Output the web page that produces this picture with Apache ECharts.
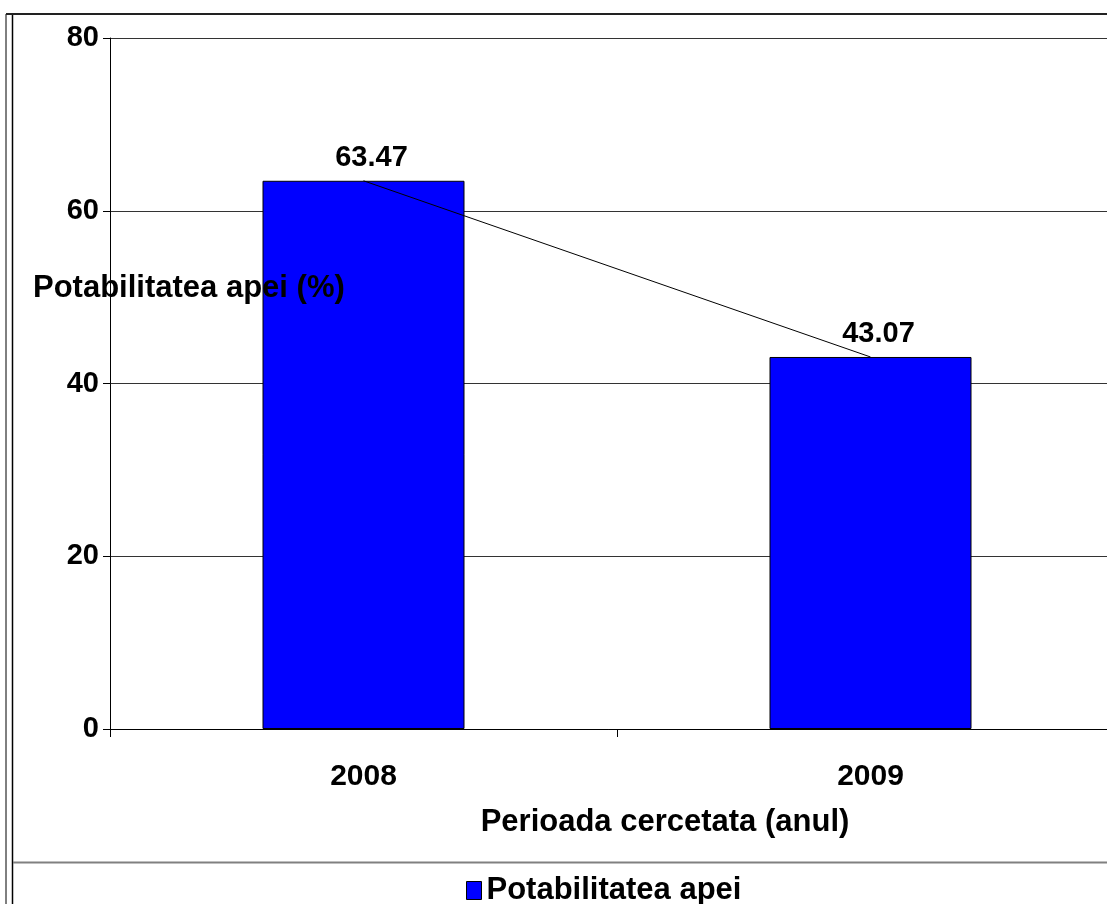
<!DOCTYPE html>
<html>
<head>
<meta charset="utf-8">
<script src="https://cdn.jsdelivr.net/npm/echarts@6/dist/echarts.min.js"></script>
<style>
html,body{margin:0;padding:0;background:#fff;}
#c{width:1107px;height:904px;}
</style>
</head>
<body>
<div id="c"></div>
<script>
const categories = ['2008', '2009'];
const values = [63.47, 43.07];
const yTicks = [0, 20, 40, 60, 80];
const seriesName = 'Potabilitatea apei';
const yTitle = 'Potabilitatea apei (%)';
const xTitle = 'Perioada cercetata (anul)';

const FONT = 'Liberation Sans, Arial, sans-serif';
const chart = echarts.init(document.getElementById('c'), null, {renderer: 'canvas'});
chart.setOption({
  animation: false,
  backgroundColor: '#fff',
  title: {
    text: yTitle,
    left: 28, top: 268,
    textStyle: {fontFamily: FONT, fontWeight: 'bold', fontSize: 31, color: '#000'}
  },
  legend: {
    data: [seriesName],
    left: 461, top: 870,
    icon: 'rect',
    itemWidth: 15, itemHeight: 18, itemGap: 5,
    textStyle: {fontFamily: FONT, fontWeight: 'bold', fontSize: 31, color: '#000'},
    itemStyle: {borderColor: '#000', borderWidth: 1}
  },
  grid: {left: 110, top: 38, width: 1014, height: 691, containLabel: false, outerBoundsMode: 'none'},
  xAxis: {
    type: 'category',
    data: categories,
    name: xTitle,
    nameLocation: 'middle',
    nameGap: 78,
    nameTextStyle: {fontFamily: FONT, fontWeight: 'bold', fontSize: 31, color: '#000', padding:[0,0,0,96]},
    axisLine: {lineStyle: {color: '#000', width: 1}},
    axisTick: {show: true, length: 8, lineStyle: {color: '#000'}},
    axisLabel: {fontFamily: FONT, fontWeight: 'bold', fontSize: 30, color: '#000', margin: 33}
  },
  yAxis: {
    type: 'value',
    min: yTicks[0], max: yTicks[yTicks.length-1], interval: yTicks[1]-yTicks[0],
    axisLine: {show: true, lineStyle: {color: '#000', width: 1}},
    axisTick: {show: true, length: 7, lineStyle: {color: '#000'}},
    axisLabel: {fontFamily: FONT, fontWeight: 'bold', fontSize: 29, color: '#000', margin: 11, padding: [5,0,0,0]},
    splitLine: {show: true, lineStyle: {color: '#333', width: 1}}
  },
  series: [
    {
      name: seriesName,
      type: 'bar',
      data: values,
      barWidth: 202,
      itemStyle: {color: '#0000FF', borderColor: '#000', borderWidth: 1},
      label: {show: true, position: 'top', distance: 8, fontFamily: FONT, fontWeight: 'bold', fontSize: 29, color: '#000', formatter: p => p.value.toFixed(2), offset:[8,0]}
    },
    {
      name: 'trend',
      type: 'line',
      data: values,
      symbol: 'none',
      lineStyle: {color: '#000', width: 1},
      z: 5
    }
  ],
  graphic: [
    {type: 'line', shape: {x1: 6, y1: 14, x2: 6, y2: 904}, style: {stroke: '#000', lineWidth: 1}, silent: true},
    {type: 'line', shape: {x1: 12.5, y1: 14, x2: 12.5, y2: 904}, style: {stroke: '#000', lineWidth: 1.5}, silent: true},
    {type: 'line', shape: {x1: 6, y1: 14, x2: 1107, y2: 14}, style: {stroke: '#222', lineWidth: 2}, silent: true},
    {type: 'line', shape: {x1: 13, y1: 862.5, x2: 1107, y2: 862.5}, style: {stroke: '#808080', lineWidth: 2}, silent: true}
  ]
});
</script>
</body>
</html>
